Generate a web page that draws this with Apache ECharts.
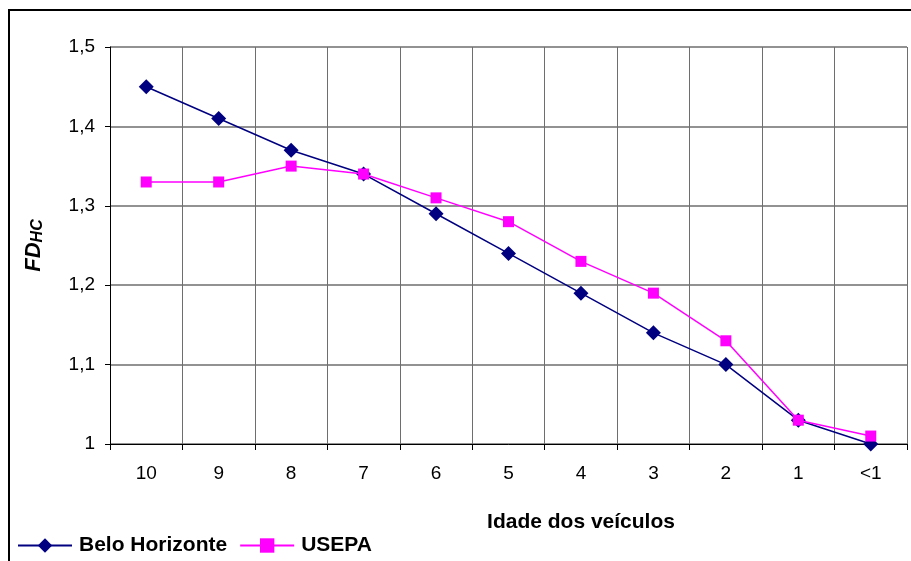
<!DOCTYPE html>
<html><head><meta charset="utf-8">
<script src="https://cdn.jsdelivr.net/npm/echarts@6/dist/echarts.min.js"></script>
<style>html,body{margin:0;padding:0;background:#fff}#c{width:911px;height:561px}</style>
</head><body><div id="c"></div>
<script>
const categories = ['10','9','8','7','6','5','4','3','2','1','<1'];
const beloHorizonte = [1.45,1.41,1.37,1.34,1.29,1.24,1.19,1.14,1.10,1.03,1.00];
const usepa = [1.33,1.33,1.35,1.34,1.31,1.28,1.23,1.19,1.13,1.03,1.01];
const yTicks = {min:1, max:1.5, interval:0.1};

const chart = echarts.init(document.getElementById('c'), null, {renderer:'canvas'});
const font = 'Liberation Sans, Arial, sans-serif';
chart.setOption({
  animation:false,
  backgroundColor:'#fff',
  graphic:[{type:'rect', shape:{x:9,y:10,width:920,height:570}, style:{fill:'none', stroke:'#000', lineWidth:2}, z:0}],
  grid:{left:110, top:47, right:4, bottom:117},
  legend:{
    left:17, top:535, padding:0, itemWidth:54, itemHeight:18, itemGap:12,
    textStyle:{fontFamily:font, fontWeight:'bold', fontSize:21, color:'#000', padding:[0,0,0,2]},
    data:['Belo Horizonte','USEPA']
  },
  xAxis:{
    type:'category', data:categories, boundaryGap:true,
    name:'Idade dos veículos', nameLocation:'middle', nameGap:68,
    nameTextStyle:{fontFamily:font, fontWeight:'bold', fontSize:21, color:'#000', padding:[0,0,0,145]},
    axisLine:{lineStyle:{color:'#000', width:1}},
    axisTick:{show:true, alignWithLabel:false, length:6, lineStyle:{color:'#000'}},
    axisLabel:{fontFamily:font, fontSize:19, color:'#000', margin:20},
    splitLine:{show:true, lineStyle:{color:'#6e6e6e', width:1}}
  },
  yAxis:{
    type:'value', min:yTicks.min, max:yTicks.max, interval:yTicks.interval,
    name:'{a|FD}{b|HC}', nameLocation:'middle', nameGap:64, nameRotate:90,
    nameTextStyle:{rich:{
      a:{fontFamily:font, fontWeight:'bold', fontStyle:'italic', fontSize:22, color:'#000'},
      b:{fontFamily:font, fontWeight:'bold', fontStyle:'italic', fontSize:16, color:'#000', padding:[8,0,0,0]}
    }},
    axisLine:{show:true, lineStyle:{color:'#000', width:1}},
    axisTick:{show:true, length:5, lineStyle:{color:'#000'}},
    axisLabel:{fontFamily:font, fontSize:19, color:'#000', margin:15,
      formatter:v=>String(Math.round(v*10)/10).replace('.',',')},
    splitLine:{show:true, lineStyle:{color:'#6e6e6e', width:1.5}}
  },
  series:[
    {name:'Belo Horizonte', type:'line', data:beloHorizonte, symbol:'diamond', symbolSize:15,
     itemStyle:{color:'#000080'}, lineStyle:{color:'#000080', width:1.5}, z:3},
    {name:'USEPA', type:'line', data:usepa, symbol:'rect', symbolSize:11,
     itemStyle:{color:'#ff00ff'}, lineStyle:{color:'#ff00ff', width:1.5}, z:4}
  ]
});
</script></body></html>
